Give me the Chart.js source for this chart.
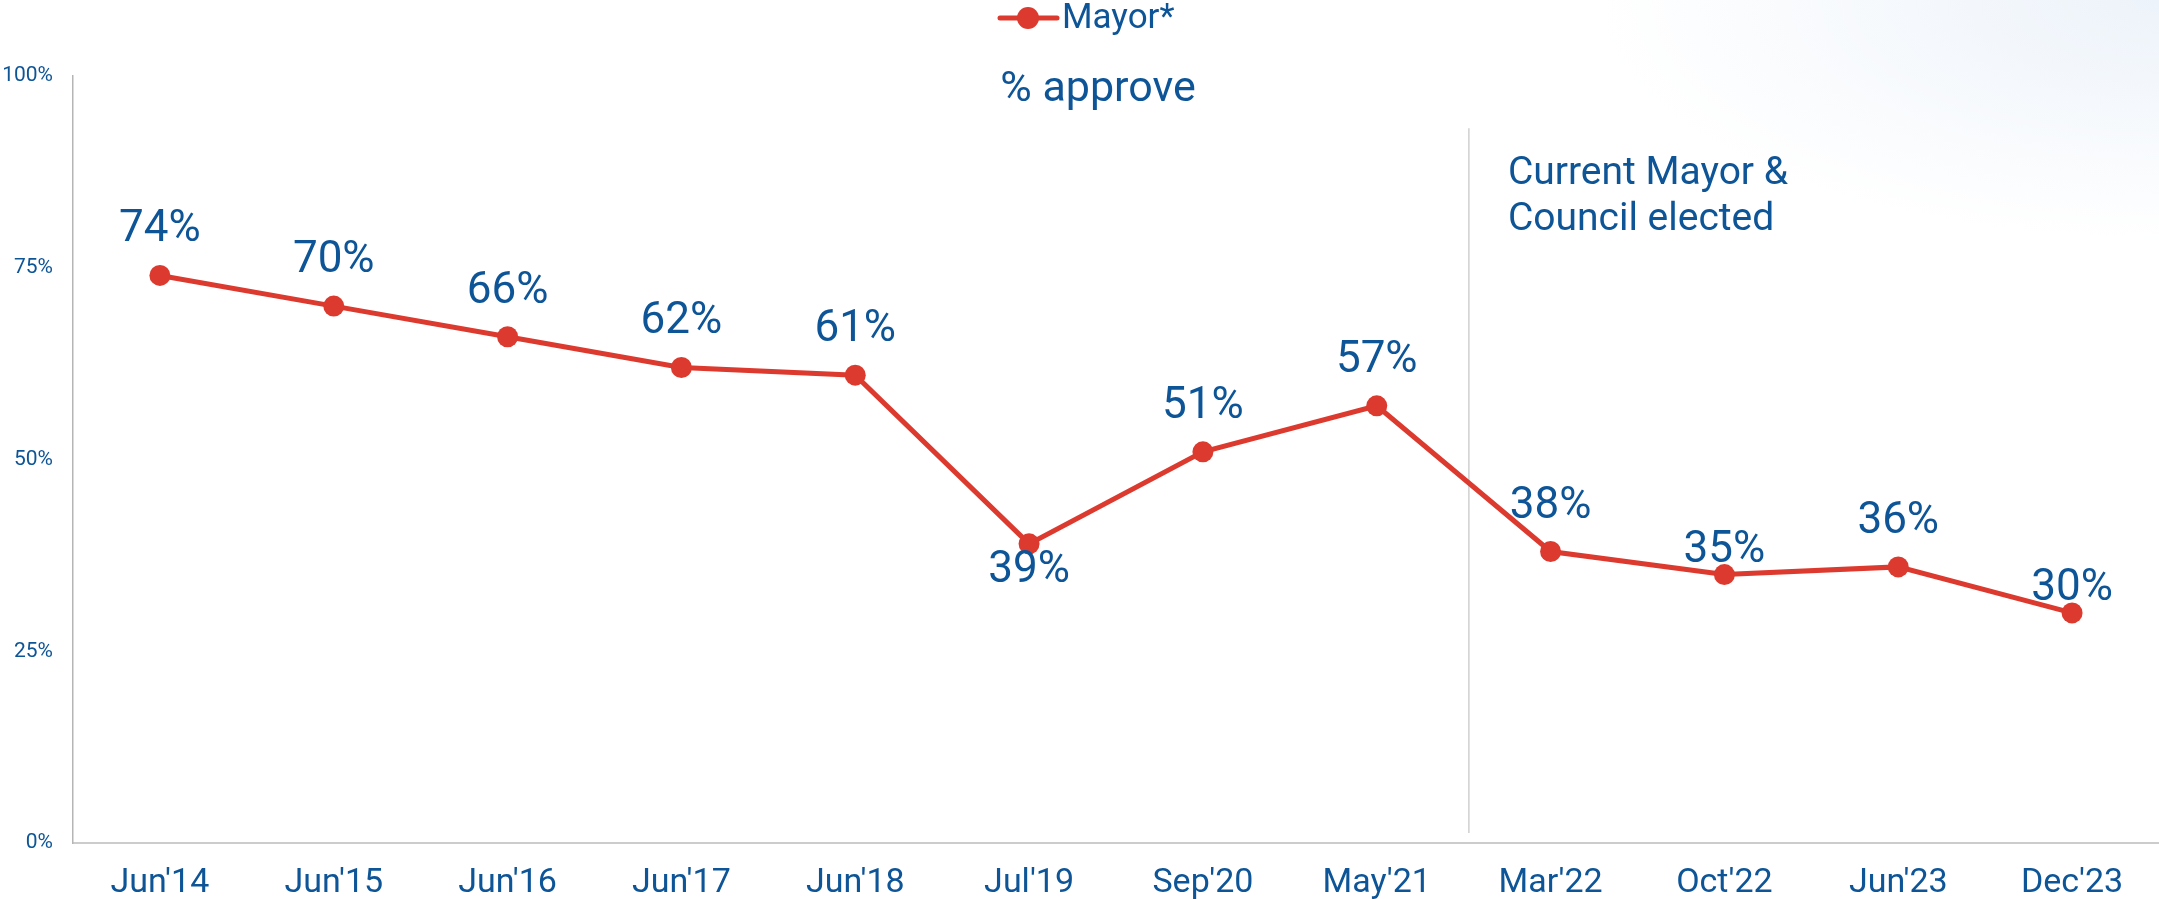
<!DOCTYPE html>
<html><head><meta charset="utf-8">
<script src="https://cdn.jsdelivr.net/npm/chart.js@4/dist/chart.umd.min.js"></script>
<style>
html,body{margin:0;padding:0;width:2159px;height:899px;overflow:hidden;}
body{background: radial-gradient(ellipse 560px 240px at 100% 0%, #edf3fa 0%, rgba(255,255,255,0) 100%), #fff;}
canvas{display:block}
</style></head><body>
<canvas id="c" width="2159" height="899"></canvas>
<script>
const categories = ["Jun'14","Jun'15","Jun'16","Jun'17","Jun'18","Jul'19","Sep'20","May'21","Mar'22","Oct'22","Jun'23","Dec'23"];
const mayorApprove = [74,70,66,62,61,39,51,57,38,35,36,30];
const yTicks = [0,25,50,75,100];
const seriesName = "Mayor*";
const chartTitle = "% approve";
const annotationLines = ["Current Mayor &", "Council elected"];
const annotationAt = 7.53;

const BLUE = '#0e5597';
const RED = '#dc3a2e';
const FONT = 'Roboto, "Open Sans", sans-serif';

const labelPlacement = ['above','above','above','above','above','below','above','above','above','near','above','near'];
const placementOffset = {above: -45, near: -24, below: 27};

const overlayPlugin = {
  id: 'overlay',
  beforeDatasetsDraw(chart) {
    const {ctx} = chart;
    const xs = chart.scales.x, ys = chart.scales.y;
    const xPos = xs.left + (annotationAt + 0.5) * (xs.width / categories.length);
    ctx.save();
    ctx.strokeStyle = '#cfcfcf';
    ctx.lineWidth = 1.5;
    ctx.beginPath();
    ctx.moveTo(xPos, ys.getPixelForValue(93.2));
    ctx.lineTo(xPos, ys.getPixelForValue(1.3));
    ctx.stroke();
    ctx.fillStyle = BLUE;
    ctx.font = '39px ' + FONT;
    ctx.textAlign = 'left';
    ctx.textBaseline = 'middle';
    annotationLines.forEach((t, i) => ctx.fillText(t, xPos + 39, ys.getPixelForValue(87.5) + 2 + i * 46));
    ctx.restore();
  },
  afterDatasetsDraw(chart) {
    const {ctx} = chart;
    const meta = chart.getDatasetMeta(0);
    ctx.save();
    ctx.fillStyle = BLUE;
    ctx.font = '44px ' + FONT;
    ctx.textAlign = 'center';
    ctx.textBaseline = 'middle';
    meta.data.forEach((pt, i) => {
      const v = chart.data.datasets[0].data[i];
      ctx.fillText(v + '%', pt.x, pt.y + placementOffset[labelPlacement[i]]);
    });
    ctx.font = '43px ' + FONT;
    ctx.textBaseline = 'alphabetic';
    ctx.fillText(chartTitle, 1098, 101);
    const lx = 1000, ly = 18;
    ctx.strokeStyle = RED;
    ctx.lineWidth = 5;
    ctx.lineCap = 'round';
    ctx.beginPath(); ctx.moveTo(lx, ly); ctx.lineTo(lx + 57, ly); ctx.stroke();
    ctx.fillStyle = RED;
    ctx.beginPath(); ctx.arc(lx + 28, ly, 11, 0, Math.PI * 2); ctx.fill();
    ctx.fillStyle = BLUE;
    ctx.font = '35px ' + FONT;
    ctx.textAlign = 'left';
    ctx.textBaseline = 'middle';
    ctx.fillText(chart.data.datasets[0].label, lx + 62, ly + 1);
    ctx.restore();
  }
};

new Chart(document.getElementById('c'), {
  type: 'line',
  data: {
    labels: categories,
    datasets: [{
      label: seriesName,
      data: mayorApprove,
      borderColor: RED,
      backgroundColor: RED,
      borderWidth: 5,
      pointRadius: 10.5,
      pointHoverRadius: 10.5,
      pointBackgroundColor: RED,
      pointBorderWidth: 0,
      tension: 0,
      clip: false
    }]
  },
  options: {
    responsive: false,
    animation: false,
    devicePixelRatio: 1,
    layout: {autoPadding: false, padding: {top: 76, right: -4, left: 0, bottom: 0}},
    plugins: {legend: {display: false}, title: {display: false}, tooltip: {enabled: false}},
    scales: {
      x: {
        type: 'category',
        offset: true,
        grid: {display: false, drawTicks: false},
        border: {display: true, color: '#cccccc', width: 2},
        ticks: {color: BLUE, font: {family: FONT, size: 34}, padding: 20, maxRotation: 0, autoSkip: false},
        afterFit: (s) => { s.height = 56; s.paddingLeft = 0; s.paddingRight = -4; }
      },
      y: {
        min: 0, max: 100,
        grid: {display: false, drawTicks: false},
        border: {display: true, color: '#b5b5b5', width: 1.5},
        afterBuildTicks: (s) => { s.ticks = yTicks.map(v => ({value: v})); },
        ticks: {color: BLUE, font: {family: FONT, size: 21}, padding: 20, callback: (v) => v + '%'},
        afterFit: (s) => { s.width = 73; }
      }
    }
  },
  plugins: [overlayPlugin]
});
</script>
</body></html>
